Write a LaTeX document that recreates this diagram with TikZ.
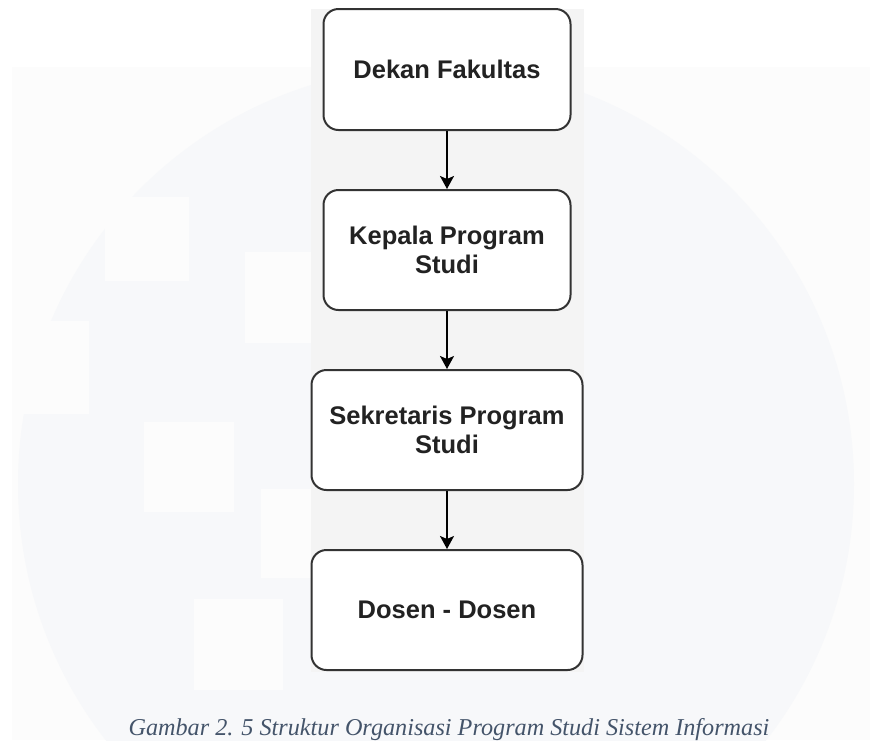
\documentclass[tikz,border=0pt]{standalone}
\usepackage{fontspec}
\setmainfont{Liberation Serif}
\newfontfamily\boxfont{Liberation Sans}
\usetikzlibrary{arrows.meta}
\definecolor{panelgray}{HTML}{F4F4F4}
\definecolor{markpanel}{HTML}{FCFCFC}
\definecolor{markcircle}{HTML}{F7F8FA}
\definecolor{edgegray}{HTML}{333333}
\definecolor{textdark}{HTML}{222222}
\definecolor{captionblue}{HTML}{44546A}
\begin{document}
\begin{tikzpicture}[
        x=1pt, y=-1pt,
        unit/.style={draw=edgegray, line width=2pt, rounded corners=15pt, fill=white,
            align=center, text=textdark, inner sep=0pt,
            font=\boxfont\bfseries\fontsize{25.5}{28.5}\selectfont},
        arrow/.style={-{Stealth[length=13pt, width=14pt, inset=3pt]}, line width=2pt, black}
    ]
        \useasboundingbox (0,0) rectangle (870,740);
        \fill[white] (0,0) rectangle (870,740);

        % Watermark
        \fill[markpanel] (12,67) rectangle (870,740);
        \begin{scope}
            \clip (12,67) rectangle (870,740);
            \fill[markcircle] (436,484) circle[radius=418pt];
        \end{scope}
        \fill[markpanel] (105,197) rectangle (189,281);
        \fill[markpanel] (245,252) rectangle (311,343);
        \fill[markpanel] (12,321) rectangle (89,414);
        \fill[markpanel] (144,422) rectangle (234,512);
        \fill[markpanel] (261,489) rectangle (311,578);
        \fill[markpanel] (194,599) rectangle (283,690);

        % Panel behind the chart
        \fill[panelgray] (311,9) rectangle (584,672);

        % Units
        \node[unit, minimum width=247pt, minimum height=121pt] (dekan) at (447,69.5) {Dekan Fakultas};
        \node[unit, minimum width=247pt, minimum height=120pt] (kaprodi) at (447,250) {Kepala Program\\Studi};
        \node[unit, minimum width=271pt, minimum height=120pt] (sekprodi) at (447,430) {Sekretaris Program\\Studi};
        \node[unit, minimum width=271pt, minimum height=120pt] (dosen) at (447,610) {Dosen - Dosen};

        % Lines of command
        \draw[arrow] (dekan) -- (kaprodi);
        \draw[arrow] (kaprodi) -- (sekprodi);
        \draw[arrow] (sekprodi) -- (dosen);

        % Caption
        \node[anchor=base, text=captionblue, inner sep=0pt,
            font=\itshape\fontsize{24.2}{28}\selectfont] (caption) at (449,735)
            {Gambar 2. 5 Struktur Organisasi Program Studi Sistem Informasi};
    \end{tikzpicture}
\end{document}
